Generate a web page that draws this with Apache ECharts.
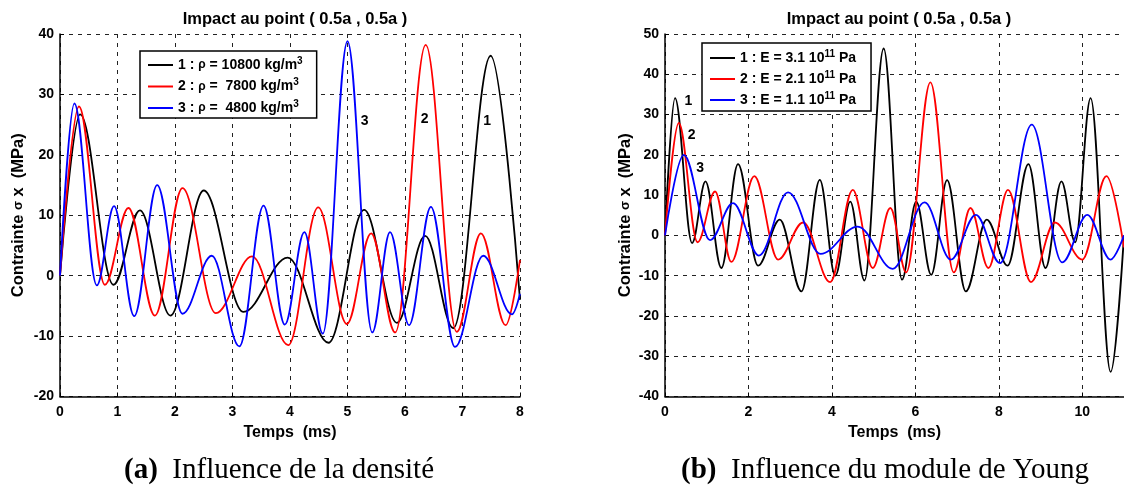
<!DOCTYPE html>
<html>
<head>
<meta charset="utf-8">
<script src="https://cdn.jsdelivr.net/npm/echarts@6/dist/echarts.min.js"></script>
<style>html,body{margin:0;padding:0;background:#fff;}#c{width:1124px;height:488px;}</style>
</head>
<body>
<div id="c"></div>
<script>
// ---- Data: [time (ms), stress (MPa)] ----
const rho10800 = [[0,0],[0.35,26.7],[0.93,-1.5],[1.39,10.8],[1.92,-6.6],[2.5,14.1],[3.19,-6.0],[3.96,3.0],[4.67,-11.1],[5.29,10.9],[5.86,-7.8],[6.35,6.6],[6.84,-8.7],[7.49,36.4],[8,-4]];
const rho7800 = [[0,0],[0.33,28],[0.78,-1.5],[1.19,11.2],[1.65,-6.6],[2.13,14.5],[2.71,-6.2],[3.34,3.2],[3.97,-11.5],[4.49,11.3],[4.99,-8.0],[5.41,7.0],[5.83,-9.4],[6.36,38.2],[6.9,-9.3],[7.32,7.0],[7.75,-8.2],[8,2.6]];
const rho4800 = [[0,0],[0.25,28.5],[0.64,-1.6],[0.94,11.5],[1.29,-6.7],[1.69,15],[2.13,-6.3],[2.64,3.3],[3.12,-11.7],[3.54,11.6],[3.91,-8.1],[4.25,7.2],[4.57,-9.6],[5.0,38.8],[5.43,-9.4],[5.74,7.2],[6.07,-8.2],[6.45,11.4],[6.87,-11.8],[7.36,3.3],[7.86,-6.4],[8,-3]];

const young31 = [[0,0],[0.24,34.1],[0.65,-1.9],[0.97,13.4],[1.35,-8.1],[1.75,17.7],[2.23,-7.5],[2.75,3.9],[3.27,-13.9],[3.71,13.8],[4.08,-10.0],[4.44,8.4],[4.78,-11.2],[5.24,46.4],[5.68,-11.0],[6.02,8.4],[6.38,-9.8],[6.76,13.7],[7.21,-13.9],[7.71,3.9],[8.21,-7.5],[8.71,17.7],[9.12,-8.1],[9.5,13.4],[9.83,-1.7],[10.2,34.1],[10.68,-33.9],[11,0]];
const young21 = [[0,0],[0.33,27.9],[0.78,-1.7],[1.2,10.9],[1.59,-6.6],[2.14,14.7],[2.71,-6.0],[3.31,3.2],[3.96,-11.6],[4.5,11.3],[4.98,-8.1],[5.4,6.8],[5.78,-9.2],[6.36,38.0],[6.92,-9.2],[7.32,6.8],[7.75,-8.1],[8.22,11.3],[8.77,-11.6],[9.34,3.2],[10.0,-6.0],[10.58,14.7],[11,-3]];
const young11 = [[0,0],[0.45,20.0],[1.08,-1.2],[1.63,8.0],[2.25,-5.0],[2.95,10.7],[3.73,-4.6],[4.62,2.2],[5.46,-8.3],[6.22,8.2],[6.85,-6.0],[7.45,5.1],[8.03,-6.9],[8.79,27.5],[9.52,-6.7],[10.12,5.1],[10.68,-6.0],[11,0]];

// curve number labels [t, v, text]
const densityLabels = [[5.30,25.5,'3'],[6.34,25.9,'2'],[7.43,25.6,'1']];
const youngLabels = [[0.56,33.4,'1'],[0.64,24.8,'2'],[0.84,16.7,'3']];

const densityNames = ['1 : ρ = 10800 kg/m3','2 : ρ =  7800 kg/m3','3 : ρ =  4800 kg/m3'];
const youngNames = ['1 : E = 3.1 1011 Pa','2 : E = 2.1 1011 Pa','3 : E = 1.1 1011 Pa'];
const titleText = 'Impact au point ( 0.5a , 0.5a )';
const xName = 'Temps  (ms)';

const F = "'Liberation Sans', Arial, sans-serif";
const SERIF = "'Liberation Serif', 'Times New Roman', serif";
const colors = ['#000000','#ff0000','#0000ff'];

function axisX(idx, max, interval) {
  return {
    type:'value', gridIndex:idx, min:0, max:max, interval:interval,
    name:xName, nameLocation:'middle', nameGap:27,
    nameTextStyle:{fontFamily:F, fontWeight:'bold', fontSize:16, color:'#000'},
    axisLine:{onZero:false, lineStyle:{color:'#000', width:1.5}},
    axisTick:{show:true, inside:true, length:4, lineStyle:{color:'#000'}},
    axisLabel:{fontFamily:F, fontWeight:'bold', fontSize:14, color:'#000', margin:9, showMaxLabel: max % interval === 0},
    splitLine:{show:true, lineStyle:{color:'#222', width:1, type:[4,5]}}
  };
}
function axisY(idx, min, max, gap) {
  return {
    type:'value', gridIndex:idx, min:min, max:max, interval:10,
    name:'{n|Contrainte }{g|σ}{n| x  (MPa)}', nameLocation:'middle', nameGap:gap,
    nameTextStyle:{fontFamily:F, fontWeight:'bold', fontSize:16, color:'#000',
      rich:{n:{fontFamily:F, fontWeight:'bold', fontSize:16.5, color:'#000'},
            g:{fontFamily:F, fontWeight:'bold', fontSize:13, color:'#000'}}},
    axisLine:{onZero:false, lineStyle:{color:'#000', width:1.5}},
    axisTick:{show:true, inside:true, length:4, lineStyle:{color:'#000'}},
    axisLabel:{fontFamily:F, fontWeight:'bold', fontSize:14, color:'#000', margin:6},
    splitLine:{show:true, lineStyle:{color:'#222', width:1, type:[4,5]}}
  };
}
function lineSeries(name, data, idx, color, labels) {
  const s = {
    name:name, type:'line', xAxisIndex:idx, yAxisIndex:idx, data:data,
    symbol:'none', smooth:0.36, smoothMonotone:'x',
    lineStyle:{color:color, width:1.8}, itemStyle:{color:color},
    silent:true, z:3
  };
  if (labels) {
    s.markPoint = {
      symbol:'circle', symbolSize:1, silent:true,
      itemStyle:{color:'rgba(0,0,0,0)'},
      label:{show:true, position:'inside', fontFamily:F, fontWeight:'bold', fontSize:14, color:'#000', formatter:(p)=>p.name},
      data:[{name:labels[2], coord:[labels[0], labels[1]]}]
    };
  }
  return s;
}
const legendRich = {
  a:{fontFamily:F, fontWeight:'bold', fontSize:14, color:'#000', lineHeight:18},
  g:{fontFamily:F, fontWeight:'bold', fontSize:12, color:'#000', lineHeight:18},
  s:{fontFamily:F, fontWeight:'bold', fontSize:10, color:'#000', lineHeight:18, verticalAlign:'top'}
};
function legendFmt(name) {
  if (name.indexOf('ρ') >= 0) {
    const parts = name.split('ρ');
    const rest = parts[1].slice(0, -1);
    return '{a|' + parts[0] + '}{g|ρ}{a|' + rest + '}{s|3}';
  }
  const i = name.indexOf('1011');
  return '{a|' + name.slice(0, i) + '10}{s|11}{a|' + name.slice(i + 4) + '}';
}
function legend(names, left, top, pad, gap) {
  return {
    data:names, orient:'vertical', left:left, top:top, padding:pad,
    icon:'rect', itemWidth:25, itemHeight:2, itemGap:gap, selectedMode:false,
    backgroundColor:'#fff', borderColor:'#000', borderWidth:1.5,
    formatter:legendFmt, textStyle:{rich:legendRich}
  };
}
const capRich = {
  b:{fontFamily:SERIF, fontWeight:'bold', fontSize:29, color:'#000'},
  r:{fontFamily:SERIF, fontWeight:'normal', fontSize:29, color:'#000'}
};

const option = {
  animation:false,
  backgroundColor:'#fff',
  title:[
    {text:titleText, left:290, top:6, textAlign:'center', textStyle:{fontFamily:F, fontWeight:'bold', fontSize:16.5, color:'#000'}},
    {text:titleText, left:894, top:6, textAlign:'center', textStyle:{fontFamily:F, fontWeight:'bold', fontSize:16.5, color:'#000'}},
    {text:'{b|(a)}{r|  Influence de la densité}', left:274, top:451, textAlign:'center',
      textStyle:{fontWeight:'normal', rich:capRich}},
    {text:'{b|(b)}{r|  Influence du module de Young}', left:880, top:451, textAlign:'center',
      textStyle:{fontWeight:'normal', rich:capRich}}
  ],
  legend:[
    legend(densityNames, 140, 51, [5,14,3,8], 5.5),
    legend(youngNames, 702, 43, [6,15,4,8], 5)
  ],
  grid:[
    {left:60, top:34, width:460, height:362.5},
    {left:665, top:34, width:460, height:362.5}
  ],
  xAxis:[axisX(0, 8, 1), axisX(1, 11, 2)],
  yAxis:[axisY(0, -20, 40, 33), axisY(1, -40, 50, 31)],
  series:[
    lineSeries(densityNames[0], rho10800, 0, colors[0], densityLabels[2]),
    lineSeries(densityNames[1], rho7800, 0, colors[1], densityLabels[1]),
    lineSeries(densityNames[2], rho4800, 0, colors[2], densityLabels[0]),
    lineSeries(youngNames[0], young31, 1, colors[0], youngLabels[0]),
    lineSeries(youngNames[1], young21, 1, colors[1], youngLabels[1]),
    lineSeries(youngNames[2], young11, 1, colors[2], youngLabels[2])
  ]
};
const chart = echarts.init(document.getElementById('c'), null, {renderer:'canvas'});
chart.setOption(option);
</script>
</body>
</html>
